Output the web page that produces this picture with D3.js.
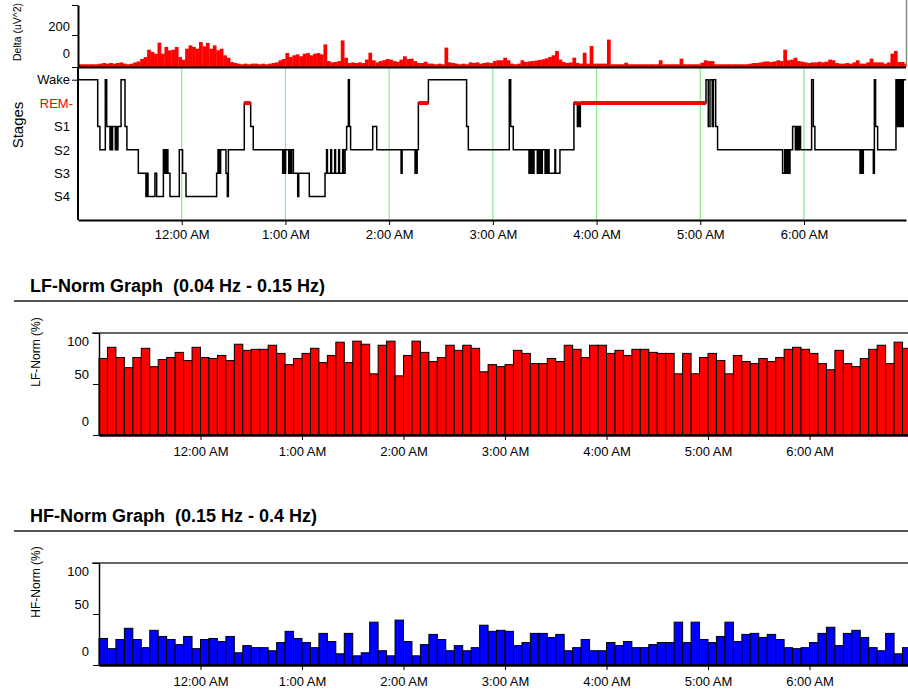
<!DOCTYPE html>
<html>
<head>
<meta charset="utf-8">
<script src="https://cdn.jsdelivr.net/npm/d3@7"></script>
<style>
    body { margin: 0; background: #fff; }
    svg { display: block; font-family: "Liberation Sans", Arial, sans-serif; }
</style>
</head>
<body>
<div id="chart"></div>
<script>
// ---- data ----
const stageNames = ["Wake", "REM", "S1", "S2", "S3", "S4"];
const tickLabels = ["12:00 AM", "1:00 AM", "2:00 AM", "3:00 AM", "4:00 AM", "5:00 AM", "6:00 AM"];
const tickMinutes = [60, 120, 180, 240, 300, 360, 420]; // minutes after 11:00 PM

// delta power, one value per 2 minutes from 11:00 PM
const delta = [
    17, 17, 17, 17, 17, 17,
    21, 25, 21, 25, 21, 25, 29, 21, 17, 21,
    29, 35, 50, 62, 108, 94, 83, 152, 83, 125,
    104, 108, 125, 62, 46, 114, 135, 125, 114, 156,
    129, 150, 114, 135, 104, 114, 73, 58, 31, 25,
    21, 17, 21, 17, 21, 21, 17, 21, 17, 21,
    25, 29, 42, 50, 87, 62, 73, 79, 67, 83,
    87, 73, 83, 87, 79, 141, 37, 29, 31, 37,
    166, 58, 25, 29, 25, 29, 25, 46, 89, 42,
    29, 37, 42, 50, 46, 37, 33, 46, 67, 50,
    52, 37, 25, 25, 33, 21, 21, 17, 21, 17,
    121, 29, 25, 21, 17, 21, 17, 29, 25, 29,
    21, 25, 29, 25, 37, 42, 42, 58, 42, 21,
    17, 21, 42, 31, 35, 37, 40, 44, 48, 54,
    62, 73, 100, 46, 31, 25, 29, 58, 25, 21,
    89, 21, 131, 21, 21, 21, 21, 171, 17, 17,
    17, 17, 27, 17, 17, 17, 17, 17, 17, 17,
    17, 17, 42, 17, 17, 17, 17, 17, 52, 17,
    17, 17, 17, 17, 27, 42, 37, 37, 17, 17,
    17, 17, 17, 17, 17, 17, 17, 17, 21, 25,
    25, 29, 33, 35, 31, 35, 42, 37, 108, 42,
    46, 58, 37, 33, 29, 25, 29, 29, 33, 29,
    33, 46, 42, 25, 21, 21, 25, 21, 29, 42,
    21, 21, 29, 52, 29, 29, 29, 21, 29, 83,
    100, 31, 31, 21
];

// hypnogram: [minute after 11:00 PM, stage index]
const hypnogram = [
    [0, 0], [11.4, 2], [12.7, 3], [15.8, 0], [16.6, 2], [18.5, 3], [19.0, 2], [19.6, 3], [20.0, 2], [21.6, 3],
    [22.1, 2], [22.6, 3], [23.1, 2], [24.9, 0], [27.2, 2], [28.3, 3], [34.9, 4], [39.3, 5],
    [39.9, 4], [40.5, 5], [44.5, 4], [45.5, 5], [49.4, 3], [49.9, 4], [50.5, 3], [51.1, 4], [51.7, 3], [52.0, 4],
    [53.2, 5], [58.6, 3], [60.5, 4], [62.5, 5], [80.2, 4], [81.0, 3], [81.8, 4], [82.5, 3], [85.6, 4], [86.4, 5],
    [87.0, 3], [96.2, 1], [99.9, 2], [101.4, 3], [118.4, 4], [119.0, 3], [119.6, 4], [120.1, 3], [121.9, 4], [122.4, 3],
    [123.0, 4], [123.6, 3], [124.6, 4], [127.1, 5], [127.7, 4], [133.8, 5], [142.9, 4], [143.8, 3], [144.3, 4], [146.2, 3],
    [146.7, 4], [148.5, 3], [149.0, 4], [150.8, 3], [151.3, 4], [153.1, 3], [153.6, 4],
    [154.5, 3], [155.4, 2], [156.4, 0], [157.0, 2], [157.7, 3], [170.5, 2], [172.8, 3], [186.9, 4], [187.5, 3],
    [195.0, 4], [195.4, 3], [195.8, 4], [196.2, 3], [196.9, 1], [202.7, 0], [224.8, 2], [225.8, 3], [249.5, 0], [250.3, 2],
    [251.8, 3], [260.9, 4], [261.5, 3], [262.1, 4], [262.6, 3], [263.2, 4], [263.8, 3], [265.7, 4], [266.3, 3], [266.9, 4],
    [267.5, 3], [268.0, 4], [268.6, 3], [270.2, 4], [270.7, 3], [271.3, 4], [271.9, 3], [272.5, 4], [275.9, 3], [276.3, 4],
    [278.8, 3], [286.9, 1], [288.9, 2], [289.4, 1], [290.0, 2], [290.6, 1], [363.3, 0], [364.6, 2], [365.6, 0], [366.9, 2],
    [367.6, 0], [368.9, 2], [370.0, 3], [407.6, 4], [408.8, 3], [409.6, 4], [410.3, 3], [411.1, 4], [411.9, 3], [413.4, 2],
    [415.0, 3], [415.7, 2], [416.5, 3], [417.3, 2], [418.0, 3], [424.4, 0], [425.4, 2], [426.3, 3], [452.4, 4], [453.1, 3],
    [453.7, 4], [454.3, 3], [460.1, 4], [460.7, 0], [461.4, 2], [462.6, 3], [473.2, 0], [474.0, 2], [474.8, 0], [475.5, 2],
    [476.1, 0], [476.9, 2], [477.4, 0], [479, 0]
];

// 5-minute epochs from 11:00 PM
const lfNorm = [
    75, 86, 76, 66, 76, 85, 67, 74, 76, 81, 73, 86, 76, 75, 78, 73, 89, 83, 84, 84, 88, 80, 69, 75,
    80, 85, 71, 78, 91, 71, 92, 89, 60, 88, 92, 58, 78, 92, 81, 72, 76, 88, 83, 88, 85, 62, 69, 67,
    69, 83, 80, 70, 70, 75, 72, 88, 84, 76, 88, 88, 80, 83, 78, 84, 84, 81, 80, 80, 60, 80, 60, 76,
    80, 73, 60, 78, 72, 70, 75, 72, 76, 84, 86, 84, 80, 70, 64, 83, 70, 67, 75, 84, 88, 70, 91, 85
];
const hfNorm = [
    26, 16, 25, 36, 25, 17, 34, 28, 25, 20, 28, 16, 25, 26, 23, 28, 12, 19, 17, 17, 14, 22, 33, 26,
    22, 17, 31, 23, 11, 31, 9, 12, 42, 14, 9, 44, 23, 9, 20, 30, 25, 14, 19, 14, 17, 39, 33, 34,
    33, 19, 22, 31, 31, 27, 30, 14, 17, 25, 14, 14, 22, 19, 23, 17, 17, 20, 22, 22, 42, 22, 42, 25,
    22, 28, 42, 23, 30, 31, 27, 30, 25, 17, 16, 17, 22, 31, 37, 19, 31, 34, 27, 17, 14, 31, 11, 17
];

// ---- chart ----
const width = 908;
const height = 692;
const t0 = new Date(2000, 0, 1, 23, 0);
const at = m => new Date(t0.getTime() + m * 60000);
const hourTicks = tickMinutes.map(at);
const tickFmt = d => tickLabels[hourTicks.findIndex(t => +t === +d)];

const svg = d3.select("#chart")
    .append("svg")
    .attr("width", width)
    .attr("height", height);

svg.append("defs").append("clipPath")
    .attr("id", "topclip")
    .append("rect")
    .attr("x", 78).attr("y", 0).attr("width", 828).attr("height", 230);

function styleAxis(g, tickStroke) {
    g.selectAll(".tick text")
        .style("font-family", "'Liberation Sans', Arial, sans-serif")
        .style("font-size", "13px")
        .attr("fill", "#000");
    g.selectAll(".tick line").attr("stroke", tickStroke || "#000");
}

// ---- top panel: delta + hypnogram ----
const xTop = d3.scaleTime().domain([at(0), at(479)]).range([78, 906]);
const yDelta = d3.scaleLinear().domain([0, 387]).range([67, 5]);
const yStage = d3.scaleLinear().domain([-0.5, 6]).range([68, 220]);

const upper = svg.append("g");

// delta bars
upper.append("g")
    .attr("clip-path", "url(#topclip)")
    .selectAll("rect")
    .data(delta)
    .join("rect")
    .attr("x", (d, i) => xTop(at(i * 2)))
    .attr("width", (d, i) => xTop(at(i * 2 + 2)) - xTop(at(i * 2)) + 0.3)
    .attr("y", d => yDelta(d))
    .attr("height", d => yDelta(0) - yDelta(d))
    .attr("fill", "#ff0000");

// delta axis
const deltaAxis = upper.append("g")
    .attr("transform", "translate(78,0)")
    .call(d3.axisLeft(yDelta).tickValues([0, 200, 387]).tickSize(6).tickSizeOuter(0)
        .tickFormat(d => d === 387 ? "" : d3.format("d")(d)).tickPadding(2));
styleAxis(deltaAxis);
deltaAxis.select(".domain").attr("stroke", "#000").attr("stroke-width", 2);
deltaAxis.selectAll(".tick text").attr("dy", d => d === 200 ? "-0.35em" : "-0.75em");

// right border of delta panel
upper.append("line")
    .attr("x1", 906.5).attr("x2", 906.5).attr("y1", 0).attr("y2", 67)
    .attr("stroke", "#888").attr("stroke-width", 1.5);

upper.append("text")
    .attr("transform", "translate(21,61) rotate(-90)")
    .style("font-size", "10.5px")
    .text("Delta (uV^2)");

// hour gridlines
upper.append("g")
    .selectAll("line")
    .data(hourTicks)
    .join("line")
    .attr("x1", d => xTop(d)).attr("x2", d => xTop(d))
    .attr("y1", 68).attr("y2", 220)
    .attr("stroke", "#8ee88e").attr("stroke-width", 1.2);

// hypnogram
const stageLine = d3.line()
    .curve(d3.curveStepAfter)
    .x(d => xTop(at(d[0])))
    .y(d => yStage(d[1]));

upper.append("path")
    .datum(hypnogram)
    .attr("d", stageLine)
    .attr("fill", "none")
    .attr("stroke", "#000")
    .attr("stroke-width", 1.5);

// REM segments in red
const remSegs = [];
hypnogram.forEach((d, i) => {
    if (d[1] === 1 && i < hypnogram.length - 1) remSegs.push([d[0], hypnogram[i + 1][0]]);
});
upper.append("g")
    .selectAll("line")
    .data(remSegs)
    .join("line")
    .attr("x1", d => xTop(at(d[0]))).attr("x2", d => xTop(at(d[1])))
    .attr("y1", yStage(1)).attr("y2", yStage(1))
    .attr("stroke", "#ff0000").attr("stroke-width", 4);

// top edge (delta baseline)
upper.append("line")
    .attr("x1", 78).attr("x2", 906).attr("y1", 67.5).attr("y2", 67.5)
    .attr("stroke", "#000").attr("stroke-width", 2);

// stage axis
const stageAxis = upper.append("g")
    .attr("transform", "translate(78,0)")
    .call(d3.axisLeft(yStage).tickValues([0, 1, 2, 3, 4, 5]).tickSize(6).tickSizeOuter(0)
        .tickFormat(i => i === 1 ? stageNames[i] + "-" : stageNames[i]).tickPadding(2));
styleAxis(stageAxis);
stageAxis.select(".domain").attr("d", `M0,${yStage(-0.5)}V220`).attr("stroke", "#000").attr("stroke-width", 2);
stageAxis.selectAll(".tick line").attr("display", d => d === 0 ? null : "none");
stageAxis.selectAll(".tick text")
    .attr("x", d => d === 1 ? -5 : -8)
    .attr("fill", d => d === 1 ? "#ff0000" : "#000");

upper.append("text")
    .attr("transform", "translate(17,125) rotate(-90)")
    .attr("text-anchor", "middle")
    .attr("dominant-baseline", "central")
    .style("font-size", "15px")
    .text("Stages");

const timeAxisTop = upper.append("g")
    .attr("transform", "translate(0,220)")
    .call(d3.axisBottom(xTop).tickValues(hourTicks).tickFormat(tickFmt).tickSize(5).tickSizeOuter(0).tickPadding(5));
styleAxis(timeAxisTop);
timeAxisTop.select(".domain").attr("stroke", "#000").attr("stroke-width", 2);

// ---- LF / HF norm panels ----
function normPanel(values, fill, title, yLabel, off) {
    const x = d3.scaleTime().domain([at(0), at(480)]).range([99, 911]);
    const y = d3.scaleLinear().domain([0, 100]).range([435 + off, 333 + off]);
    const g = svg.append("g");

    g.append("text")
        .attr("x", 30).attr("y", 292 + off)
        .style("font-size", "18px")
        .style("font-weight", "bold")
        .attr("xml:space", "preserve")
        .text(title);

    g.append("line")
        .attr("x1", 14).attr("x2", 908).attr("y1", 301 + off).attr("y2", 301 + off)
        .attr("stroke", "#555").attr("stroke-width", 2);

    g.append("line")
        .attr("x1", 92).attr("x2", 908).attr("y1", 333 + off).attr("y2", 333 + off)
        .attr("stroke", "#333").attr("stroke-width", 1.5);

    g.append("g")
        .selectAll("rect")
        .data(values)
        .join("rect")
        .attr("x", (d, i) => x(at(i * 5)))
        .attr("width", (d, i) => x(at(i * 5 + 5)) - x(at(i * 5)))
        .attr("y", d => y(d))
        .attr("height", d => y(0) - y(d))
        .attr("fill", fill)
        .attr("stroke", "#000")
        .attr("stroke-width", 1);

    const ya = g.append("g")
        .attr("transform", "translate(99,0)")
        .call(d3.axisLeft(y).tickValues([0, 50, 100]).tickSize(6).tickSizeOuter(0).tickPadding(4));
    styleAxis(ya);
    ya.select(".domain").attr("stroke", "#000").attr("stroke-width", 1.5);
    ya.selectAll(".tick text").attr("dy", d => d === 100 ? "0.95em" : d === 50 ? "-0.45em" : "-0.7em");

    const xa = g.append("g")
        .attr("transform", `translate(0,${435 + off})`)
        .call(d3.axisBottom(x).tickValues(hourTicks).tickFormat(tickFmt).tickSize(5).tickSizeOuter(0).tickPadding(7));
    styleAxis(xa);
    xa.select(".domain").attr("stroke", "#000").attr("stroke-width", 2.5);

    g.append("text")
        .attr("transform", `translate(36,${352 + off}) rotate(-90)`)
        .attr("text-anchor", "middle")
        .attr("dominant-baseline", "central")
        .style("font-size", "12px")
        .text(yLabel);
}

normPanel(lfNorm, "#ff0000", "LF-Norm Graph  (0.04 Hz - 0.15 Hz)", "LF-Norm (%)", 0);
normPanel(hfNorm, "#0000ff", "HF-Norm Graph  (0.15 Hz - 0.4 Hz)", "HF-Norm (%)", 230);
</script>
</body>
</html>
